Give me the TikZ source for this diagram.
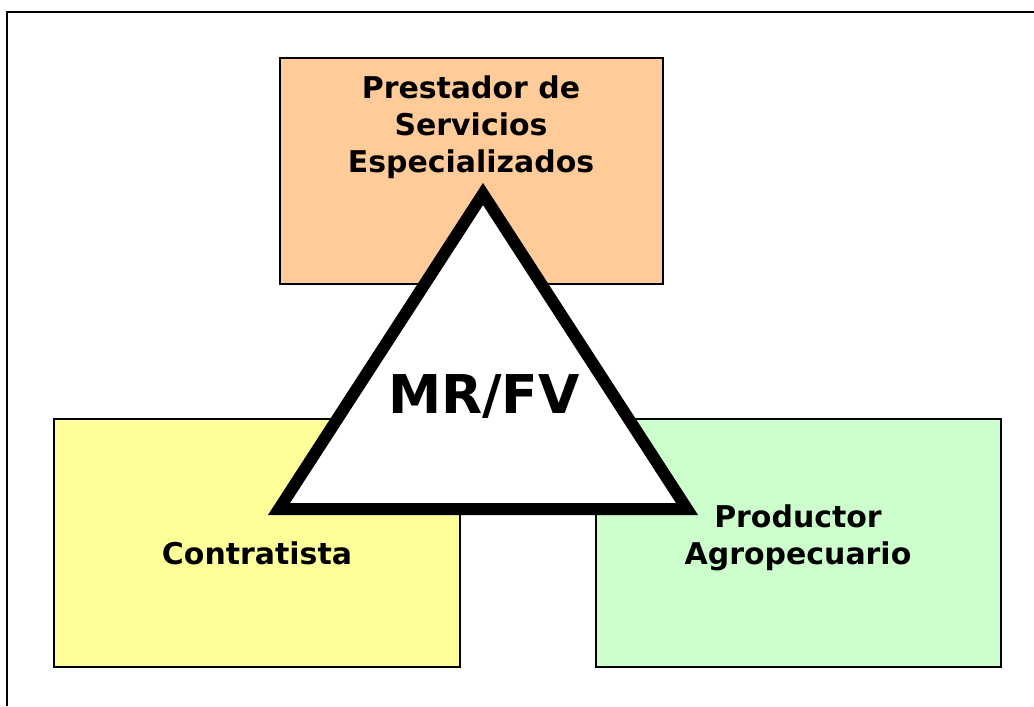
\documentclass[tikz,border=0pt]{standalone}
\usepackage{fontspec}
\setmainfont{DejaVu Sans}
\begin{document}
\begin{tikzpicture}[x=0.025cm,y=-0.025cm]
        \tikzstyle{every node}=[font=\bfseries\fontsize{21.3}{26.3}\selectfont,align=center,inner sep=0pt]
        \tikzstyle{actor}=[draw=black,line width=1.2pt,minimum width=383*0.025cm,minimum height=226*0.025cm]
        \tikzstyle{frame}=[line width=1.6pt]
        \useasboundingbox (0,0) rectangle (1034,706);
        \draw[frame] (7,706) -- (7,12) -- (1034,12);
        \node[actor,fill={rgb,255:red,255;green,204;blue,153}] (prestador) at (471.5,171) {};
        \node[actor,fill={rgb,255:red,255;green,255;blue,153},minimum width=406*0.025cm,minimum height=248*0.025cm] (contratista) at (257,543) {};
        \node[actor,fill={rgb,255:red,204;green,255;blue,204},minimum width=405*0.025cm,minimum height=248*0.025cm] (productor) at (798.5,543) {};
        \node (prestadortxt) at (471,127) {Prestador de\\Servicios\\Especializados};
        \node (contratistatxt) at (257,553) {Contratista};
        \node (productortxt) at (798,538) {Productor\\Agropecuario};
        \coordinate (apex) at (483,194);
        \coordinate (left) at (279,509);
        \coordinate (right) at (687,509);
        \draw[line width=12*0.025cm,fill=white,line join=miter] (apex) -- (left) -- (right) -- cycle;
        \node[font=\bfseries\fontsize{38}{45}\selectfont] (mrfv) at (484,396) {MR/FV};
    \end{tikzpicture}
\end{document}
